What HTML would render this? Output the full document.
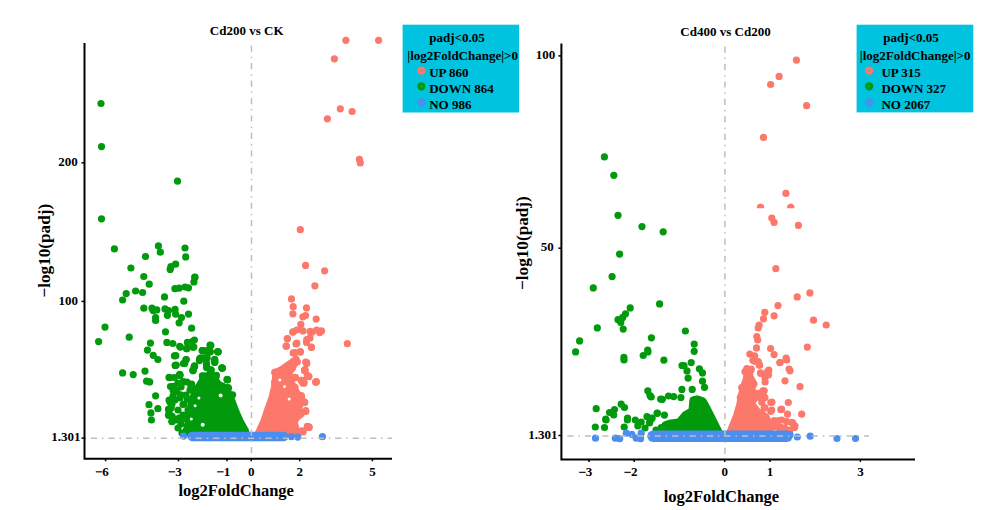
<!DOCTYPE html>
<html><head><meta charset="utf-8"><style>
html,body{margin:0;padding:0;background:#fff;width:1000px;height:510px;overflow:hidden}
svg{display:block}
text{font-family:"Liberation Serif",serif;font-weight:bold;fill:#000}
.t12{font-size:13px} .t13{font-size:13px} .t16{font-size:16.5px} .t17{font-size:17.2px}
</style></head><body>
<div id="w"><svg width="1000" height="510" viewBox="0 0 1000 510">
<g fill="#009A0C">
<path d="M199 386 L205 376 L213 376 L218 384 L226 388 L230 396 L233 404 L236 412 L240 421 L245 430 L246 433 L188 433 L189 415 L192 401 L195 392 Z" stroke="#009A0C" stroke-width="7.2" stroke-linejoin="round" stroke-linecap="round"/>
<circle cx="101" cy="103.5" r="3.6"/><circle cx="101.5" cy="146.6" r="3.6"/><circle cx="177.5" cy="181.2" r="3.6"/><circle cx="101.5" cy="218.8" r="3.6"/><circle cx="114.4" cy="248.9" r="3.6"/><circle cx="158.4" cy="245.9" r="3.6"/><circle cx="160.3" cy="252.2" r="3.6"/><circle cx="185" cy="248" r="3.6"/><circle cx="185.7" cy="256.9" r="3.6"/><circle cx="145.5" cy="256.5" r="3.6"/><circle cx="130.9" cy="268" r="3.6"/><circle cx="170.9" cy="266.6" r="3.6"/><circle cx="175.6" cy="264.2" r="3.6"/><circle cx="170.2" cy="269.4" r="3.6"/><circle cx="143.8" cy="276.5" r="3.6"/><circle cx="194.9" cy="277.2" r="3.6"/><circle cx="193.9" cy="281.9" r="3.6"/><circle cx="149.2" cy="284.2" r="3.6"/><circle cx="135.6" cy="291" r="3.6"/><circle cx="142.6" cy="292.5" r="3.6"/><circle cx="126.2" cy="293.6" r="3.6"/><circle cx="122.6" cy="300" r="3.6"/><circle cx="174.9" cy="288.7" r="3.6"/><circle cx="179.1" cy="288.2" r="3.6"/><circle cx="185" cy="287" r="3.6"/><circle cx="188.5" cy="287.8" r="3.6"/><circle cx="164.5" cy="296.9" r="3.6"/><circle cx="183.8" cy="301.2" r="3.6"/><circle cx="143.8" cy="308.2" r="3.6"/><circle cx="152" cy="308.2" r="3.6"/><circle cx="156.8" cy="309.9" r="3.6"/><circle cx="165" cy="308.9" r="3.6"/><circle cx="168.5" cy="310.6" r="3.6"/><circle cx="175.1" cy="309.4" r="3.6"/><circle cx="175.6" cy="314.1" r="3.6"/><circle cx="167.4" cy="315.3" r="3.6"/><circle cx="155.6" cy="317.6" r="3.6"/><circle cx="181.5" cy="317.6" r="3.6"/><circle cx="188.5" cy="314.1" r="3.6"/><circle cx="153.2" cy="310.6" r="3.6"/><circle cx="194.8" cy="277.3" r="3.6"/><circle cx="105" cy="327.1" r="3.6"/><circle cx="98.6" cy="341.6" r="3.6"/><circle cx="129.2" cy="337.2" r="3.6"/><circle cx="165.5" cy="331.8" r="3.6"/><circle cx="155.6" cy="320.5" r="3.6"/><circle cx="179.1" cy="322.8" r="3.6"/><circle cx="191.6" cy="328.2" r="3.6"/><circle cx="150.4" cy="343.1" r="3.6"/><circle cx="166.9" cy="342.4" r="3.6"/><circle cx="172.8" cy="343.5" r="3.6"/><circle cx="180.3" cy="347.1" r="3.6"/><circle cx="187.4" cy="342.4" r="3.6"/><circle cx="194.4" cy="340" r="3.6"/><circle cx="186.6" cy="348.7" r="3.6"/><circle cx="192.8" cy="347.1" r="3.6"/><circle cx="202.2" cy="350.6" r="3.6"/><circle cx="147.4" cy="350.1" r="3.6"/><circle cx="153.2" cy="355.3" r="3.6"/><circle cx="157.9" cy="359.5" r="3.6"/><circle cx="174.4" cy="355.8" r="3.6"/><circle cx="186.2" cy="359.5" r="3.6"/><circle cx="183.8" cy="363.5" r="3.6"/><circle cx="199.8" cy="358.8" r="3.6"/><circle cx="175.1" cy="365.4" r="3.6"/><circle cx="194.4" cy="365.9" r="3.6"/><circle cx="193.2" cy="370.1" r="3.6"/><circle cx="122.6" cy="372.9" r="3.6"/><circle cx="133.2" cy="374.6" r="3.6"/><circle cx="145" cy="371.1" r="3.6"/><circle cx="146.6" cy="381.2" r="3.6"/><circle cx="149.7" cy="381.9" r="3.6"/><circle cx="202.6" cy="376.5" r="3.6"/><circle cx="155.6" cy="395.8" r="3.6"/><circle cx="149" cy="404.7" r="3.6"/><circle cx="157.9" cy="408.7" r="3.6"/><circle cx="150.9" cy="412.9" r="3.6"/><circle cx="151.4" cy="420" r="3.6"/><circle cx="169.7" cy="401.2" r="3.6"/><circle cx="168.5" cy="409.4" r="3.6"/><circle cx="168.5" cy="415.3" r="3.6"/><circle cx="172.1" cy="421.6" r="3.6"/><circle cx="210.6" cy="345.3" r="3.6"/><circle cx="202.9" cy="350.6" r="3.6"/><circle cx="207" cy="350.6" r="3.6"/><circle cx="210.4" cy="351.8" r="3.6"/><circle cx="218.2" cy="351.8" r="3.6"/><circle cx="206.5" cy="357.6" r="3.6"/><circle cx="214.7" cy="359.4" r="3.6"/><circle cx="201.2" cy="358.2" r="3.6"/><circle cx="192.3" cy="341.6" r="3.6"/><circle cx="186.8" cy="348.6" r="3.6"/><circle cx="179.7" cy="346.3" r="3.6"/><circle cx="193.8" cy="347.1" r="3.6"/><circle cx="210.8" cy="345.5" r="3.6"/><circle cx="203.2" cy="351" r="3.6"/><circle cx="209.2" cy="351.8" r="3.6"/><circle cx="218.1" cy="351.8" r="3.6"/><circle cx="175.8" cy="355.7" r="3.6"/><circle cx="186" cy="359.6" r="3.6"/><circle cx="183.6" cy="363.5" r="3.6"/><circle cx="200.1" cy="359.1" r="3.6"/><circle cx="207.2" cy="358" r="3.6"/><circle cx="215" cy="361.6" r="3.6"/><circle cx="176.3" cy="365.1" r="3.6"/><circle cx="194.6" cy="366.4" r="3.6"/><circle cx="193" cy="370.6" r="3.6"/><circle cx="206.4" cy="365.1" r="3.6"/><circle cx="210.3" cy="369.8" r="3.6"/><circle cx="222.1" cy="368.2" r="3.6"/><circle cx="179.7" cy="375.3" r="3.6"/><circle cx="203.2" cy="376.1" r="3.6"/><circle cx="215.8" cy="376.9" r="3.6"/><circle cx="227.5" cy="380" r="3.6"/><circle cx="169" cy="377.4" r="3.6"/><circle cx="173.5" cy="386.4" r="3.6"/><circle cx="170.2" cy="402.2" r="3.6"/><circle cx="169" cy="409" r="3.6"/><circle cx="169.8" cy="377.6" r="3.6"/><circle cx="169.1" cy="400.2" r="3.6"/><circle cx="171.9" cy="404.3" r="3.6"/><circle cx="169.1" cy="412.6" r="3.6"/><circle cx="171.9" cy="421.5" r="3.6"/><circle cx="185.6" cy="418.8" r="3.6"/><circle cx="170.5" cy="386.5" r="3.6"/><circle cx="173.2" cy="390.6" r="3.6"/><circle cx="174.3" cy="377.5" r="3.6"/><circle cx="179.7" cy="374.3" r="3.6"/><circle cx="183" cy="381.8" r="3.6"/><circle cx="191.6" cy="384" r="3.6"/><circle cx="194.8" cy="389.4" r="3.6"/><circle cx="176.5" cy="390.5" r="3.6"/><circle cx="180.8" cy="394.8" r="3.6"/><circle cx="187.3" cy="399.1" r="3.6"/><circle cx="172.2" cy="401.3" r="3.6"/><circle cx="183" cy="404.5" r="3.6"/><circle cx="191.6" cy="407.8" r="3.6"/><circle cx="171.1" cy="407.8" r="3.6"/><circle cx="172.2" cy="416.4" r="3.6"/><circle cx="185.1" cy="418.5" r="3.6"/><circle cx="191.6" cy="424" r="3.6"/><circle cx="198" cy="425" r="3.6"/><circle cx="186.2" cy="430.4" r="3.6"/><circle cx="198" cy="392.6" r="3.6"/><circle cx="202.4" cy="401.3" r="3.6"/><circle cx="202.4" cy="350.5" r="3.6"/><circle cx="210" cy="345.1" r="3.6"/><circle cx="217.5" cy="351.6" r="3.6"/><circle cx="204.6" cy="358.1" r="3.6"/><circle cx="214.3" cy="361.3" r="3.6"/><circle cx="221.8" cy="367.8" r="3.6"/><circle cx="211" cy="370" r="3.6"/><circle cx="227.2" cy="379.7" r="3.6"/><circle cx="228.3" cy="388.3" r="3.6"/><circle cx="232.6" cy="394.8" r="3.6"/><circle cx="216.4" cy="375.4" r="3.6"/><circle cx="200.2" cy="358.1" r="3.6"/><circle cx="178" cy="428" r="3.6"/><circle cx="182" cy="433" r="3.6"/><circle cx="184.7" cy="363.5" r="3.6"/><circle cx="199.4" cy="360.6" r="3.6"/><circle cx="206.5" cy="363.5" r="3.6"/><circle cx="214.7" cy="362.4" r="3.6"/><circle cx="194.1" cy="367.1" r="3.6"/><circle cx="192.9" cy="370.6" r="3.6"/><circle cx="206.5" cy="367.6" r="3.6"/><circle cx="211.2" cy="370" r="3.6"/><circle cx="222.4" cy="368.2" r="3.6"/><circle cx="180" cy="375.3" r="3.6"/><circle cx="202.4" cy="375.9" r="3.6"/><circle cx="208.2" cy="375.3" r="3.6"/><circle cx="215.3" cy="375.9" r="3.6"/><circle cx="227.1" cy="379.4" r="3.6"/><circle cx="183.5" cy="381.8" r="3.6"/><circle cx="190.6" cy="384.7" r="3.6"/><circle cx="200.6" cy="387.1" r="3.6"/><circle cx="220" cy="385.9" r="3.6"/><circle cx="228.2" cy="387.6" r="3.6"/><circle cx="185.9" cy="415.3" r="3.6"/><circle cx="176" cy="392" r="3.6"/><circle cx="180" cy="398" r="3.6"/><circle cx="184" cy="404" r="3.6"/><circle cx="178" cy="410" r="3.6"/><circle cx="183" cy="415" r="3.6"/><circle cx="188" cy="410" r="3.6"/><circle cx="186" cy="395" r="3.6"/><circle cx="181" cy="387" r="3.6"/><circle cx="190" cy="390" r="3.6"/><circle cx="176" cy="420" r="3.6"/><circle cx="181" cy="424" r="3.6"/><circle cx="187" cy="426" r="3.6"/><circle cx="175" cy="400" r="3.6"/><circle cx="178" cy="383" r="3.6"/><circle cx="187" cy="382" r="3.6"/><circle cx="173" cy="396" r="3.6"/><circle cx="179" cy="418" r="3.6"/>
</g>
<g fill="#FC786B">
<path d="M258.5 433 L264 421 L268 409 L272 398 L274.5 387 L275.5 379 L276 373 L279 371 L284 368 L289 364.5 L294 361 L296 359 L295 363 L290 371 L286 381 L292 384 L294 388 L298 395 L301 402 L298 409 L301 414 L297 417 L294 422 L296 429 L293 433 Z" stroke="#FC786B" stroke-width="7.2" stroke-linejoin="round" stroke-linecap="round"/>
<circle cx="345.9" cy="40.3" r="3.6"/><circle cx="378.6" cy="40.3" r="3.6"/><circle cx="334.4" cy="58.8" r="3.6"/><circle cx="340.3" cy="108.8" r="3.6"/><circle cx="352.1" cy="111.5" r="3.6"/><circle cx="327.4" cy="118.8" r="3.6"/><circle cx="359.4" cy="159.4" r="3.6"/><circle cx="360.3" cy="162.9" r="3.6"/><circle cx="300.3" cy="229.7" r="3.6"/><circle cx="305.6" cy="265.4" r="3.6"/><circle cx="324.6" cy="270.8" r="3.6"/><circle cx="314.9" cy="285.8" r="3.6"/><circle cx="291.5" cy="298.9" r="3.6"/><circle cx="347.3" cy="343.7" r="3.6"/><circle cx="293.2" cy="306.7" r="3.6"/><circle cx="306.5" cy="307.9" r="3.6"/><circle cx="292.9" cy="313.8" r="3.6"/><circle cx="302.9" cy="316.8" r="3.6"/><circle cx="305.6" cy="315.5" r="3.6"/><circle cx="316.2" cy="319.1" r="3.6"/><circle cx="300.8" cy="324.4" r="3.6"/><circle cx="293.2" cy="331.8" r="3.6"/><circle cx="296.8" cy="330" r="3.6"/><circle cx="302.9" cy="330.9" r="3.6"/><circle cx="310" cy="331.4" r="3.6"/><circle cx="316.7" cy="330" r="3.6"/><circle cx="321.5" cy="330.9" r="3.6"/><circle cx="319.7" cy="332.6" r="3.6"/><circle cx="287.4" cy="338.8" r="3.6"/><circle cx="310" cy="337.9" r="3.6"/><circle cx="306.5" cy="342.4" r="3.6"/><circle cx="296.8" cy="343.2" r="3.6"/><circle cx="286.2" cy="346.2" r="3.6"/><circle cx="311.4" cy="347.3" r="3.6"/><circle cx="293.2" cy="352.9" r="3.6"/><circle cx="300.3" cy="352.1" r="3.6"/><circle cx="297.3" cy="361.8" r="3.6"/><circle cx="306.5" cy="362.6" r="3.6"/><circle cx="290.6" cy="364.4" r="3.6"/><circle cx="286.2" cy="367.1" r="3.6"/><circle cx="292.4" cy="367.9" r="3.6"/><circle cx="304.7" cy="370.2" r="3.6"/><circle cx="274.7" cy="372.4" r="3.6"/><circle cx="282.6" cy="373.2" r="3.6"/><circle cx="308.2" cy="376.4" r="3.6"/><circle cx="294.1" cy="377.6" r="3.6"/><circle cx="301.2" cy="380.3" r="3.6"/><circle cx="302.9" cy="382.9" r="3.6"/><circle cx="315.6" cy="382.1" r="3.6"/><circle cx="274.7" cy="382.1" r="3.6"/><circle cx="285.3" cy="386.5" r="3.6"/><circle cx="295" cy="387.3" r="3.6"/><circle cx="304.6" cy="370.7" r="3.6"/><circle cx="309" cy="376.6" r="3.6"/><circle cx="295" cy="377.6" r="3.6"/><circle cx="301.6" cy="380.3" r="3.6"/><circle cx="303.8" cy="383.2" r="3.6"/><circle cx="316" cy="382.1" r="3.6"/><circle cx="301.6" cy="397.2" r="3.6"/><circle cx="304.6" cy="402.4" r="3.6"/><circle cx="299.4" cy="412.6" r="3.6"/><circle cx="305.7" cy="411.2" r="3.6"/><circle cx="309" cy="427.4" r="3.6"/><circle cx="303.1" cy="431.8" r="3.6"/><circle cx="299.4" cy="432.5" r="3.6"/><circle cx="302.2" cy="430.8" r="3.6"/><circle cx="308.9" cy="427.2" r="3.6"/><circle cx="287.3" cy="338.6" r="3.6"/><circle cx="286.3" cy="346.2" r="3.6"/><circle cx="296" cy="344" r="3.6"/><circle cx="306.7" cy="339.7" r="3.6"/><circle cx="311.5" cy="347.2" r="3.6"/><circle cx="294.9" cy="352.6" r="3.6"/><circle cx="300.3" cy="351.6" r="3.6"/><circle cx="306.7" cy="363.4" r="3.6"/><circle cx="305" cy="369.9" r="3.6"/><circle cx="307.8" cy="376.3" r="3.6"/><circle cx="316.4" cy="381.7" r="3.6"/><circle cx="294.9" cy="377.4" r="3.6"/><circle cx="302.4" cy="380.6" r="3.6"/><circle cx="301.3" cy="395.7" r="3.6"/><circle cx="304.6" cy="402.2" r="3.6"/><circle cx="305.6" cy="411.5" r="3.6"/><circle cx="299.2" cy="413" r="3.6"/><circle cx="308.9" cy="427" r="3.6"/><circle cx="301.3" cy="431.3" r="3.6"/><circle cx="275.5" cy="372" r="3.6"/><circle cx="287.3" cy="366.6" r="3.6"/><circle cx="292.7" cy="332.2" r="3.6"/><circle cx="312.1" cy="332.2" r="3.6"/><circle cx="305.7" cy="362" r="3.6"/><circle cx="304.9" cy="369.9" r="3.6"/><circle cx="307.3" cy="375.4" r="3.6"/><circle cx="295.5" cy="377.7" r="3.6"/><circle cx="301.8" cy="380.9" r="3.6"/><circle cx="304.1" cy="382.5" r="3.6"/><circle cx="307.3" cy="426.4" r="3.6"/><circle cx="305.7" cy="410.7" r="3.6"/>
</g>
<g fill="#4A8EF0">
<path d="M192 436.5 L284 436.5" stroke="#4A8EF0" stroke-width="9.4" stroke-linejoin="round" stroke-linecap="round"/>
<circle cx="183.5" cy="436.1" r="3.6"/><circle cx="291.4" cy="436.7" r="3.6"/><circle cx="297.7" cy="437.1" r="3.6"/><circle cx="322.4" cy="436.7" r="3.6"/>
</g>
<g fill="#009A0C">
<path d="M663 432 L665 425 L671 423 L679 422 L685 415 L692 411 L693 400 L697 399 L703 401 L707 408 L711 416 L715 424 L719 432 Z" stroke="#009A0C" stroke-width="7.2" stroke-linejoin="round" stroke-linecap="round"/>
<circle cx="604.4" cy="156.9" r="3.6"/><circle cx="613.8" cy="175.3" r="3.6"/><circle cx="618" cy="215.3" r="3.6"/><circle cx="642" cy="226.6" r="3.6"/><circle cx="663.2" cy="231.8" r="3.6"/><circle cx="619.6" cy="254.1" r="3.6"/><circle cx="612.1" cy="276.6" r="3.6"/><circle cx="593.3" cy="287.9" r="3.6"/><circle cx="659.6" cy="303.9" r="3.6"/><circle cx="630.2" cy="307.9" r="3.6"/><circle cx="625.5" cy="313.8" r="3.6"/><circle cx="622.7" cy="317.4" r="3.6"/><circle cx="618" cy="319.7" r="3.6"/><circle cx="620.8" cy="322.5" r="3.6"/><circle cx="597.3" cy="327.9" r="3.6"/><circle cx="623.2" cy="329.1" r="3.6"/><circle cx="579.6" cy="340.9" r="3.6"/><circle cx="575.6" cy="351.9" r="3.6"/><circle cx="651.4" cy="337.8" r="3.6"/><circle cx="647.9" cy="351.9" r="3.6"/><circle cx="643.2" cy="355.5" r="3.6"/><circle cx="623.9" cy="357.4" r="3.6"/><circle cx="663.9" cy="360.2" r="3.6"/><circle cx="682" cy="365.6" r="3.6"/><circle cx="624" cy="360" r="3.6"/><circle cx="647.8" cy="390.8" r="3.6"/><circle cx="651.2" cy="397" r="3.6"/><circle cx="660.7" cy="399.2" r="3.6"/><circle cx="596.2" cy="408.7" r="3.6"/><circle cx="621.2" cy="404.2" r="3.6"/><circle cx="624.5" cy="407.5" r="3.6"/><circle cx="614.5" cy="409.5" r="3.6"/><circle cx="609.5" cy="412.5" r="3.6"/><circle cx="613.7" cy="415" r="3.6"/><circle cx="605.7" cy="419.2" r="3.6"/><circle cx="627.5" cy="418" r="3.6"/><circle cx="635.3" cy="420" r="3.6"/><circle cx="641.2" cy="422" r="3.6"/><circle cx="647" cy="416.7" r="3.6"/><circle cx="651.2" cy="418.3" r="3.6"/><circle cx="657.3" cy="413.3" r="3.6"/><circle cx="649.5" cy="423" r="3.6"/><circle cx="637.8" cy="425.8" r="3.6"/><circle cx="645" cy="428" r="3.6"/><circle cx="595.3" cy="427" r="3.6"/><circle cx="604.5" cy="427.5" r="3.6"/><circle cx="624.2" cy="427" r="3.6"/><circle cx="661.2" cy="427.5" r="3.6"/><circle cx="694.2" cy="344.1" r="3.6"/><circle cx="694.2" cy="351.3" r="3.6"/><circle cx="691.2" cy="362.6" r="3.6"/><circle cx="684" cy="365.7" r="3.6"/><circle cx="687" cy="370.9" r="3.6"/><circle cx="699.4" cy="368.8" r="3.6"/><circle cx="702.5" cy="372.9" r="3.6"/><circle cx="688.1" cy="378.1" r="3.6"/><circle cx="702.5" cy="381.2" r="3.6"/><circle cx="704.5" cy="387.3" r="3.6"/><circle cx="681.9" cy="389.4" r="3.6"/><circle cx="692.2" cy="389.4" r="3.6"/><circle cx="650" cy="395.5" r="3.6"/><circle cx="662.3" cy="399.3" r="3.6"/><circle cx="668.5" cy="396" r="3.6"/><circle cx="673.7" cy="396.6" r="3.6"/><circle cx="680.9" cy="397.6" r="3.6"/><circle cx="657.2" cy="413" r="3.6"/><circle cx="664.4" cy="415.1" r="3.6"/><circle cx="652.1" cy="418.2" r="3.6"/><circle cx="650" cy="421.3" r="3.6"/><circle cx="685.4" cy="331" r="3.6"/><circle cx="647.7" cy="350" r="3.6"/><circle cx="606" cy="420" r="3.6"/><circle cx="627.4" cy="420" r="3.6"/><circle cx="666" cy="426" r="3.6"/><circle cx="670" cy="428" r="3.6"/><circle cx="675" cy="427" r="3.6"/><circle cx="680" cy="425" r="3.6"/><circle cx="656" cy="430" r="3.6"/>
</g>
<g fill="#FC786B">
<path d="M730 432 L736.5 416 L740 404 L741.5 395 L743.5 387 L746.5 379 L747 373 L749 372 L750 377 L754 384 L751 389 L757 396 L751 403 L757 411 L766 417 L769 424 L768 432 Z" stroke="#FC786B" stroke-width="7.2" stroke-linejoin="round" stroke-linecap="round"/>
<circle cx="796.4" cy="60.1" r="3.6"/><circle cx="779.1" cy="76.4" r="3.6"/><circle cx="770.6" cy="84.5" r="3.6"/><circle cx="806.6" cy="105.7" r="3.6"/><circle cx="763.5" cy="137.4" r="3.6"/><circle cx="785.9" cy="193.4" r="3.6"/><circle cx="771.8" cy="218.1" r="3.6"/><circle cx="774.1" cy="222.4" r="3.6"/><circle cx="798.4" cy="225.4" r="3.6"/><circle cx="775.8" cy="268.7" r="3.6"/><circle cx="809.9" cy="292.9" r="3.6"/><circle cx="797.2" cy="296.9" r="3.6"/><circle cx="778" cy="305.6" r="3.6"/><circle cx="764.8" cy="312.3" r="3.6"/><circle cx="774.1" cy="315.8" r="3.6"/><circle cx="763.5" cy="318.8" r="3.6"/><circle cx="813.5" cy="320.2" r="3.6"/><circle cx="826.2" cy="325" r="3.6"/><circle cx="759.1" cy="325" r="3.6"/><circle cx="758.2" cy="328" r="3.6"/><circle cx="756.8" cy="336.5" r="3.6"/><circle cx="757.7" cy="340" r="3.6"/><circle cx="807.3" cy="347.1" r="3.6"/><circle cx="756.5" cy="347.9" r="3.6"/><circle cx="770.6" cy="348.5" r="3.6"/><circle cx="774.1" cy="354.6" r="3.6"/><circle cx="786.1" cy="358.2" r="3.6"/><circle cx="779.9" cy="362.6" r="3.6"/><circle cx="749.8" cy="354.1" r="3.6"/><circle cx="754.7" cy="355.9" r="3.6"/><circle cx="752.9" cy="360.3" r="3.6"/><circle cx="758.2" cy="361.5" r="3.6"/><circle cx="759.6" cy="365.2" r="3.6"/><circle cx="746.8" cy="368.6" r="3.6"/><circle cx="751.2" cy="369.1" r="3.6"/><circle cx="789.1" cy="369.1" r="3.6"/><circle cx="768.8" cy="370" r="3.6"/><circle cx="755" cy="361.3" r="3.6"/><circle cx="759.2" cy="365" r="3.6"/><circle cx="780" cy="362.5" r="3.6"/><circle cx="786.7" cy="360" r="3.6"/><circle cx="745" cy="371.7" r="3.6"/><circle cx="750.8" cy="370.3" r="3.6"/><circle cx="760.8" cy="373.3" r="3.6"/><circle cx="768.3" cy="372.5" r="3.6"/><circle cx="765" cy="377.5" r="3.6"/><circle cx="790" cy="370.8" r="3.6"/><circle cx="785" cy="380.8" r="3.6"/><circle cx="800" cy="386.7" r="3.6"/><circle cx="741.7" cy="387.5" r="3.6"/><circle cx="759.2" cy="393.3" r="3.6"/><circle cx="764.2" cy="390.8" r="3.6"/><circle cx="763.3" cy="395.8" r="3.6"/><circle cx="770.8" cy="402.5" r="3.6"/><circle cx="788.3" cy="402.5" r="3.6"/><circle cx="764.2" cy="407.5" r="3.6"/><circle cx="771.7" cy="410" r="3.6"/><circle cx="780.8" cy="409.7" r="3.6"/><circle cx="787.5" cy="414.2" r="3.6"/><circle cx="801.7" cy="414.2" r="3.6"/><circle cx="781.7" cy="420" r="3.6"/><circle cx="786.7" cy="421.7" r="3.6"/><circle cx="791.7" cy="422.5" r="3.6"/><circle cx="795" cy="425.8" r="3.6"/><circle cx="776.7" cy="426.7" r="3.6"/><circle cx="785" cy="428.3" r="3.6"/><circle cx="766.7" cy="420" r="3.6"/><circle cx="770" cy="423.3" r="3.6"/><circle cx="781.6" cy="409.2" r="3.6"/><circle cx="792.5" cy="422.6" r="3.6"/><circle cx="794.1" cy="425.8" r="3.6"/><circle cx="780" cy="430" r="3.6"/><circle cx="790" cy="430" r="3.6"/><circle cx="749.3" cy="375" r="3.6"/><circle cx="760.6" cy="372.9" r="3.6"/><circle cx="767.4" cy="371.8" r="3.6"/><circle cx="768.5" cy="375" r="3.6"/><circle cx="765.1" cy="382" r="3.6"/><circle cx="762.9" cy="390.9" r="3.6"/><circle cx="760.6" cy="397.7" r="3.6"/><circle cx="765" cy="397.7" r="3.6"/><circle cx="771.9" cy="402.2" r="3.6"/><circle cx="770.8" cy="411.3" r="3.6"/><circle cx="765" cy="407.9" r="3.6"/><circle cx="761.8" cy="402.2" r="3.6"/><circle cx="765" cy="416.3" r="3.6"/><circle cx="774.2" cy="420.6" r="3.6"/><circle cx="771.9" cy="427.4" r="3.6"/><circle cx="778.7" cy="420.6" r="3.6"/><circle cx="781" cy="427.4" r="3.6"/><circle cx="794.5" cy="427.4" r="3.6"/><circle cx="742.6" cy="388.7" r="3.6"/><circle cx="740.3" cy="397.7" r="3.6"/>
</g>
<g fill="#4A8EF0">
<path d="M653 436.2 L787 436.2" stroke="#4A8EF0" stroke-width="11.5" stroke-linejoin="round" stroke-linecap="round"/>
<circle cx="595.5" cy="438.2" r="3.6"/><circle cx="615.3" cy="438.2" r="3.6"/><circle cx="619.7" cy="438.7" r="3.6"/><circle cx="626.3" cy="433.2" r="3.6"/><circle cx="631.8" cy="434.3" r="3.6"/><circle cx="636.2" cy="438.2" r="3.6"/><circle cx="641.2" cy="433.2" r="3.6"/><circle cx="640.6" cy="438.7" r="3.6"/><circle cx="790" cy="434.5" r="3.6"/><circle cx="797.3" cy="437" r="3.6"/><circle cx="810.2" cy="436.2" r="3.6"/><circle cx="837" cy="438.5" r="3.6"/><circle cx="855.5" cy="438.5" r="3.6"/>
</g>
<g fill="#fff"><circle cx="220.6" cy="395.5" r="2"/><circle cx="198.9" cy="398" r="1.5"/><circle cx="195.1" cy="405.7" r="1.5"/><circle cx="202.7" cy="424.8" r="2"/><circle cx="191.3" cy="419" r="1.5"/><circle cx="279.8" cy="380.1" r="1.5"/><circle cx="284.5" cy="386.4" r="1.5"/><circle cx="289.2" cy="398.9" r="1.5"/></g><path fill="#FC786B" d="M756.97 208.3 A3.7 3.7 0 1 1 764.03 208.3 Z M787.22 208.3 A3.7 3.7 0 1 1 794.28 208.3 Z"/>
<line x1="85" y1="438.2" x2="392" y2="438.2" stroke="#BEBEBE" stroke-width="1.5" stroke-dasharray="6.2 4.9 1.5 4.85" stroke-dashoffset="11.55"/>
<line x1="251.5" y1="45.6" x2="251.5" y2="458" stroke="#BEBEBE" stroke-width="1.5" stroke-dasharray="6.2 4.9 1.5 4.85"/>
<line x1="562" y1="436" x2="869" y2="436" stroke="#BEBEBE" stroke-width="1.5" stroke-dasharray="6.2 4.9 1.5 4.85" stroke-dashoffset="12.05"/>
<line x1="724.9" y1="46.5" x2="724.9" y2="459" stroke="#BEBEBE" stroke-width="1.5" stroke-dasharray="6.2 4.9 1.5 4.85"/>
<path d="M84.5 43 V458.8 H392" fill="none" stroke="#000" stroke-width="2"/>
<line x1="81.5" y1="162.8" x2="84.5" y2="162.8" stroke="#000" stroke-width="1.5"/>
<text x="77.7" y="165.9" text-anchor="end" class="t12">200</text>
<line x1="81.5" y1="301.4" x2="84.5" y2="301.4" stroke="#000" stroke-width="1.5"/>
<text x="77.9" y="304.5" text-anchor="end" class="t12">100</text>
<line x1="81.5" y1="438.1" x2="84.5" y2="438.1" stroke="#000" stroke-width="1.5"/>
<text x="80.6" y="441.20000000000005" text-anchor="end" class="t12">1.301</text>
<line x1="105.6" y1="458.8" x2="105.6" y2="461.3" stroke="#000" stroke-width="1.5"/>
<text x="105.6" y="475.6" text-anchor="middle" class="t12">6</text>
<rect x="95.8" y="471.15000000000003" width="6.4" height="1.3" fill="#222"/>
<line x1="178.5" y1="458.8" x2="178.5" y2="461.3" stroke="#000" stroke-width="1.5"/>
<text x="178.5" y="475.6" text-anchor="middle" class="t12">3</text>
<rect x="168.7" y="471.15000000000003" width="6.4" height="1.3" fill="#222"/>
<line x1="227" y1="458.8" x2="227" y2="461.3" stroke="#000" stroke-width="1.5"/>
<text x="227" y="475.6" text-anchor="middle" class="t12">1</text>
<rect x="217.2" y="471.15000000000003" width="6.4" height="1.3" fill="#222"/>
<line x1="251.2" y1="458.8" x2="251.2" y2="461.3" stroke="#000" stroke-width="1.5"/>
<text x="251.2" y="475.6" text-anchor="middle" class="t12">0</text>
<line x1="299.7" y1="458.8" x2="299.7" y2="461.3" stroke="#000" stroke-width="1.5"/>
<text x="299.7" y="475.6" text-anchor="middle" class="t12">2</text>
<line x1="372.4" y1="458.8" x2="372.4" y2="461.3" stroke="#000" stroke-width="1.5"/>
<text x="372.4" y="475.6" text-anchor="middle" class="t12">5</text>
<path d="M561.4 43.5 V459.4 H915" fill="none" stroke="#000" stroke-width="2"/>
<line x1="558.4" y1="55.9" x2="561.4" y2="55.9" stroke="#000" stroke-width="1.5"/>
<text x="555.3" y="59.0" text-anchor="end" class="t12">100</text>
<line x1="558.4" y1="248.2" x2="561.4" y2="248.2" stroke="#000" stroke-width="1.5"/>
<text x="553.8" y="251.29999999999998" text-anchor="end" class="t12">50</text>
<line x1="558.4" y1="435.5" x2="561.4" y2="435.5" stroke="#000" stroke-width="1.5"/>
<text x="557.5" y="438.6" text-anchor="end" class="t12">1.301</text>
<line x1="589" y1="459.4" x2="589" y2="461.9" stroke="#000" stroke-width="1.5"/>
<text x="589" y="476.2" text-anchor="middle" class="t12">3</text>
<rect x="579.2" y="471.75" width="6.4" height="1.3" fill="#222"/>
<line x1="634.2" y1="459.4" x2="634.2" y2="461.9" stroke="#000" stroke-width="1.5"/>
<text x="634.2" y="476.2" text-anchor="middle" class="t12">2</text>
<rect x="624.4000000000001" y="471.75" width="6.4" height="1.3" fill="#222"/>
<line x1="724.7" y1="459.4" x2="724.7" y2="461.9" stroke="#000" stroke-width="1.5"/>
<text x="724.7" y="476.2" text-anchor="middle" class="t12">0</text>
<line x1="770" y1="459.4" x2="770" y2="461.9" stroke="#000" stroke-width="1.5"/>
<text x="770" y="476.2" text-anchor="middle" class="t12">1</text>
<line x1="860.4" y1="459.4" x2="860.4" y2="461.9" stroke="#000" stroke-width="1.5"/>
<text x="860.4" y="476.2" text-anchor="middle" class="t12">3</text>
<text x="246.7" y="35.2" class="t13" text-anchor="middle">Cd200 vs CK</text>
<text x="725.5" y="35.8" class="t13" text-anchor="middle">Cd400 vs Cd200</text>
<text x="236.2" y="495.7" class="t16" text-anchor="middle">log2FoldChange</text>
<text x="721.4" y="502.2" class="t16" text-anchor="middle">log2FoldChange</text>
<text transform="translate(49.8,250.7) rotate(-90)" class="t17" text-anchor="middle">−log10(padj)</text>
<text transform="translate(527.8,243.1) rotate(-90)" class="t17" text-anchor="middle">−log10(padj)</text>
<rect x="402.6" y="24.7" width="116.5" height="87.8" fill="#00C3DF"/>
<text x="457" y="41.599999999999994" class="t13" text-anchor="middle">padj&lt;0.05</text>
<text x="462.7" y="60.2" class="t13" text-anchor="middle">|log2FoldChange|&gt;0</text>
<circle cx="421.4" cy="70.6" r="4.15" fill="#FC786B"/><circle cx="421.4" cy="70.6" r="0.9" fill="#00C3DF" opacity="0.8"/>
<text x="429.2" y="76.8" class="t13">UP 860</text>
<circle cx="421.4" cy="86.3" r="4.15" fill="#009A0C"/><circle cx="421.4" cy="86.3" r="0.9" fill="#00C3DF" opacity="0.8"/>
<text x="429.2" y="92.5" class="t13">DOWN 864</text>
<circle cx="421.4" cy="102.5" r="4.15" fill="#4A8EF0"/><circle cx="421.4" cy="102.5" r="0.9" fill="#00C3DF" opacity="0.8"/>
<text x="429.2" y="108.7" class="t13">NO 986</text>
<rect x="856.6" y="24.7" width="116.7" height="87.7" fill="#00C3DF"/>
<text x="911" y="41.599999999999994" class="t13" text-anchor="middle">padj&lt;0.05</text>
<text x="915.2" y="60.2" class="t13" text-anchor="middle">|log2FoldChange|&gt;0</text>
<circle cx="869.1" cy="70.6" r="4.15" fill="#FC786B"/><circle cx="869.1" cy="70.6" r="0.9" fill="#00C3DF" opacity="0.8"/>
<text x="881.4" y="76.8" class="t13">UP 315</text>
<circle cx="869.1" cy="86.3" r="4.15" fill="#009A0C"/><circle cx="869.1" cy="86.3" r="0.9" fill="#00C3DF" opacity="0.8"/>
<text x="881.4" y="92.5" class="t13">DOWN 327</text>
<circle cx="869.1" cy="102.5" r="4.15" fill="#4A8EF0"/><circle cx="869.1" cy="102.5" r="0.9" fill="#00C3DF" opacity="0.8"/>
<text x="881.4" y="108.7" class="t13">NO 2067</text>
</svg></div></body></html>
